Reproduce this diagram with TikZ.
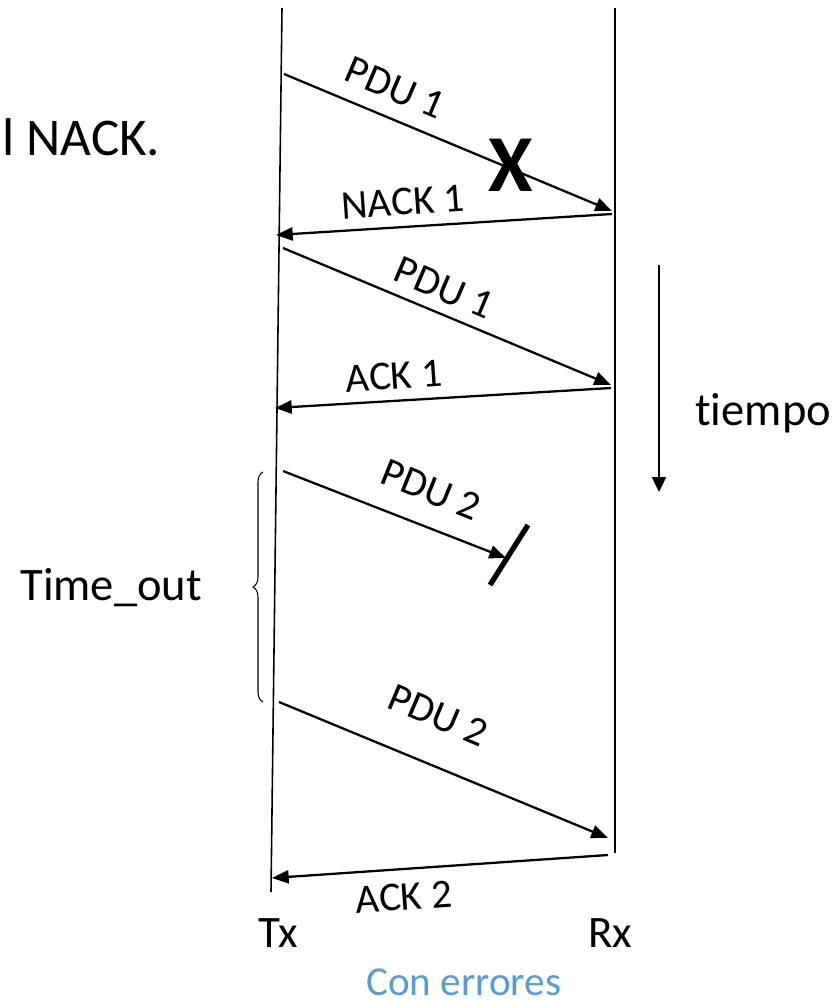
\documentclass[tikz,border=0pt]{standalone}
\usepackage{fontspec}
\setmainfont{Carlito}[Ligatures=NoCommon]
\usetikzlibrary{arrows.meta,decorations.pathreplacing}
\definecolor{azul}{HTML}{5B9BD5}
\tikzset{
  vida/.style     = {line width=0.9pt},
  flecha/.style   = {line width=1.3pt, -{Triangle[length=9.5pt, width=7.5pt]}},
  etiqueta/.style = {inner sep=0pt, font=\fontsize{23.3}{26}\selectfont},
  texto/.style    = {inner sep=0pt, anchor=base west, font=\fontsize{26.5}{30}\selectfont}
}

\begin{document}
\begin{tikzpicture}[x=0.02cm, y=-0.02cm]
    \useasboundingbox (0,0) rectangle (839,1001);

    % lineas de vida
    \coordinate (txA) at (282,8);
    \coordinate (txB) at (271,892);
    \coordinate (rxA) at (615,8);
    \coordinate (rxB) at (615,853);
    \draw[vida] (txA) -- (txB);
    \draw[vida] (rxA) -- (rxB);

    % extremos de los mensajes
    \coordinate (p1a) at (284,74);  \coordinate (p1b) at (612,211);
    \coordinate (n1a) at (612,214); \coordinate (n1b) at (276,235);
    \coordinate (p1c) at (283,248); \coordinate (p1d) at (611,385);
    \coordinate (a1a) at (611,388); \coordinate (a1b) at (275,408);
    \coordinate (p2a) at (283,471); \coordinate (p2b) at (506,558);
    \coordinate (p2c) at (279,702); \coordinate (p2d) at (608,838);
    \coordinate (a2a) at (608,855); \coordinate (a2b) at (272,878);

    \draw[flecha] (p1a) -- (p1b);
    \draw[flecha] (n1a) -- (n1b);
    \draw[flecha] (p1c) -- (p1d);
    \draw[flecha] (a1a) -- (a1b);
    \draw[flecha] (p2a) -- (p2b);
    \draw[flecha] (p2c) -- (p2d);
    \draw[flecha] (a2a) -- (a2b);

    \node[etiqueta, rotate=-23] (lp1) at (395,88) {PDU 1};
    \node[etiqueta, rotate=4] (ln1) at (403,202) {NACK 1};
    \node[etiqueta, rotate=-23] (lp1b) at (444,288) {PDU 1};
    \node[etiqueta, rotate=4] (la1) at (394,376) {ACK 1};
    \node[etiqueta, rotate=-22] (lp2) at (431,490) {PDU 2};
    \node[etiqueta, rotate=-23] (lp2b) at (438,715) {PDU 2};
    \node[etiqueta, rotate=4] (la2) at (404,897) {ACK 2};

    % perdida y bloqueo
    \node[inner sep=0pt, font=\fontsize{46}{50}\selectfont\bfseries] (cruz) at (511,165) {X};
    \coordinate (barA) at (528,525);
    \coordinate (barB) at (490,585);
    \draw[line width=3pt] (barA) -- (barB);

    % temporizador
    \coordinate (llA) at (263,702);
    \coordinate (llB) at (263,472);
    \draw[line width=0.6pt, decorate, decoration={brace, amplitude=5.7pt}] (llA) -- (llB);
    \node[texto] (tout) at (20,600) {Time\_out};

    % eje de tiempo
    \coordinate (tA) at (659,265);
    \coordinate (tB) at (659,492);
    \draw[line width=1.1pt, -{Triangle[length=8.5pt, width=8pt]}] (tA) -- (tB);
    \node[texto] (tiempo) at (695,425) {tiempo};

    \node[texto, font=\fontsize{30.2}{34}\selectfont] (nack) at (2,155) {l NACK.};
    \node[texto, font=\fontsize{25.6}{30}\selectfont] (tx) at (258,947) {Tx};
    \node[texto, font=\fontsize{25.6}{30}\selectfont] (rx) at (588,947) {Rx};
    \node[texto, font=\fontsize{23.4}{28}\selectfont, text=azul] (modo) at (366,995) {Con errores};
  \end{tikzpicture}
\end{document}
